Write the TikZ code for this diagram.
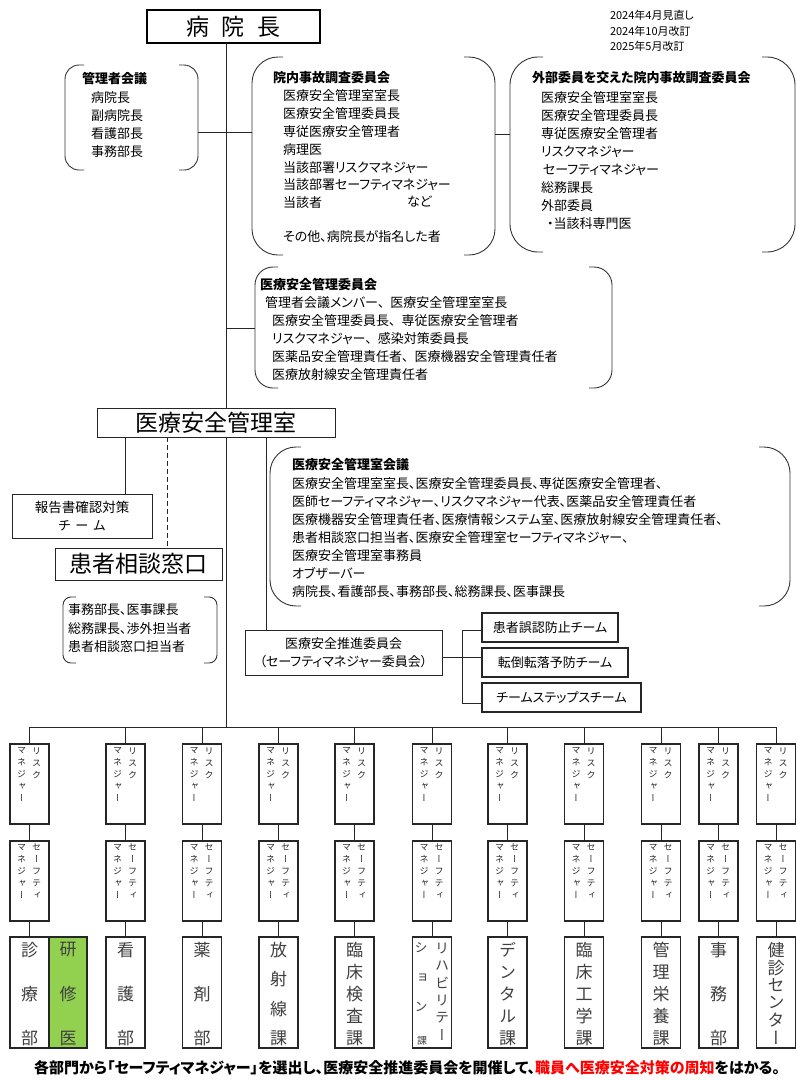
\documentclass[tikz,border=0pt]{standalone}
\usepackage{fontspec}
\setmainfont{Noto Sans CJK JP}[RawFeature={+palt}]
\newfontfamily\vjp{Noto Sans CJK JP}[RawFeature={+vert}]
\usetikzlibrary{calc}
\newcommand\bx[7]{\node[#2, minimum width={((#5)-(#3))*1pt}, minimum height={((#6)-(#4))*1pt}] (#1) at ({((#3)+(#5))/2},{((#4)+(#6))/2}) {#7};}
\newcommand\brackets[2]{%
 \draw[brkline, rounded corners=#2pt] ([xshift={(#2+5)*1pt}]#1.north west) -- (#1.north west) -- (#1.south west) -- ([xshift={(#2+5)*1pt}]#1.south west);
 \draw[brkline, rounded corners=#2pt] ([xshift={-(#2+5)*1pt}]#1.north east) -- (#1.north east) -- (#1.south east) -- ([xshift={-(#2+5)*1pt}]#1.south east);}
\newcommand\vdept[4]{\foreach \ch [count=\k from 0] in {#4}{\node[dtext] (#1-\k) at ({#2},{950+\k*88/(#3-1)}) {\ch};}}
\tikzset{
 every node/.style={inner sep=0pt, outer sep=0pt},
 ln/.style={line width=0.8pt, draw=black!85},
 brkline/.style={line width=0.9pt, draw=black!80},
 plainnode/.style={draw=none},
 box/.style={draw=black!85, line width=0.9pt, fill=white, align=center, font=\fontsize{13}{18}\selectfont},
 thickbox/.style={draw=black, line width=1.8pt, fill=white, align=center},
 tbox/.style={draw=black!85, line width=1.3pt, fill=white, align=center, font=\fontsize{13}{18}\selectfont},
 cbox/.style={draw=black!85, line width=1.3pt, fill=white},
 greenbox/.style={draw=black!85, line width=1.3pt, fill={rgb,255:red,146;green,208;blue,80}},
 ttl/.style={anchor=west, font=\bfseries\fontsize{13}{18}\selectfont},
 body/.style={anchor=north west, align=left, font=\fontsize{13}{17.8}\selectfont},
 body1/.style={anchor=west, font=\fontsize{13}{18}\selectfont},
 date/.style={anchor=west, font=\fontsize{11}{14}\selectfont},
 vsmall/.style={anchor=north, align=center, font=\vjp\fontsize{9}{12}\selectfont, text=black!85},
 dtext/.style={font=\vjp\fontsize{17}{17}\selectfont, text=black!75},
 foot/.style={font=\bfseries\fontsize{15}{15}\selectfont}
}
\begin{document}
\begin{tikzpicture}[x=1pt,y=-1pt]
\useasboundingbox (0,0) rectangle (797,1080);
% coordinates of the trunk
\coordinate (trunk) at (226,727);
\coordinate (j1) at (226,132);
\coordinate (j2) at (226,328);
\coordinate (j3) at (500,134);
\coordinate (s1) at (125,0);
\coordinate (s2) at (167,0);
\coordinate (s3) at (266,0);
\coordinate (b1) at (462,630);
\coordinate (b2) at (462,657);
\coordinate (b3) at (462,703);
\coordinate (dtop) at (0,937);
% dates
\node[date] (d1) at (610,15) {2024年4月見直し};
\node[date] (d2) at (610,31) {2024年10月改訂};
\node[date] (d3) at (610,46) {2025年5月改訂};
% brackets boxes (invisible frames)
\bx{kanri}{plainnode}{65}{65}{198}{170}{}
\bx{innai}{plainnode}{252}{57}{495}{255}{}
\bx{gaibu}{plainnode}{510}{57}{795}{252}{}
\bx{iinkai}{plainnode}{255}{267}{612}{388}{}
\bx{kaigi}{plainnode}{270}{447}{790}{606}{}
\bx{kanjabr}{plainnode}{63}{597}{217}{663}{}
\brackets{kanri}{14}
\brackets{innai}{26}
\brackets{gaibu}{28}
\brackets{iinkai}{18}
\brackets{kaigi}{26}
\brackets{kanjabr}{8}
% trunk
\bx{incho}{thickbox}{147}{10}{320}{43}{\fontsize{23}{23}\selectfont 病\hspace{13pt}院\hspace{13pt}長}
\draw[ln] (incho.south -| trunk) -- (trunk);
\draw[ln] (kanri.east |- j1) -- (innai.west |- j1);
\draw[ln] (innai.east |- j3) -- (gaibu.west |- j3);
\draw[ln] (j2) -- (iinkai.west |- j2);
% texts in brackets
\node[ttl] (kanri-t) at (82,79) {管理者会議};
\node[body, font=\fontsize{13}{18}\selectfont] (kanri-b) at (91,92) {病院長\\副病院長\\看護部長\\事務部長};
\node[ttl] (innai-t) at (273,78) {院内事故調査委員会};
\node[body] (innai-b) at (283,90) {医療安全管理室室長\\医療安全管理委員長\\専従医療安全管理者\\病理医\\当該部署リスクマネジャー\\当該部署セーフティマネジャー\\当該者\\[16pt]その他、病院長が指名した者};
\node[body1] (innai-n) at (407,202) {など};
\node[ttl] (gaibu-t) at (532,78) {外部委員を交えた院内事故調査委員会};
\node[body, font=\fontsize{13}{18}\selectfont] (gaibu-b) at (541,92) {医療安全管理室室長\\医療安全管理委員長\\専従医療安全管理者\\リスクマネジャー\\\hspace*{2pt}セーフティマネジャー\\総務課長\\外部委員\\\hspace*{6pt}・当該科専門医};
\node[ttl] (iinkai-t) at (260,285) {医療安全管理委員会};
\node[body, font=\fontsize{13}{18}\selectfont] (iinkai-b) at (265,297) {管理者会議メンバー、\hspace{6pt}医療安全管理室室長\\\hspace*{7pt}医療安全管理委員長、\hspace{6pt}専従医療安全管理者\\\hspace*{7pt}リスクマネジャー、\hspace{6pt}感染対策委員長\\\hspace*{7pt}医薬品安全管理責任者、\hspace{6pt}医療機器安全管理責任者\\\hspace*{7pt}医療放射線安全管理責任者};
\node[ttl] (kaigi-t) at (292,465) {医療安全管理室会議};
\node[body, font=\fontsize{13}{17.9}\selectfont] (kaigi-b) at (292,478) {医療安全管理室室長、医療安全管理委員長、専従医療安全管理者、\\医師セーフティマネジャー、リスクマネジャー代表、医薬品安全管理責任者\\医療機器安全管理責任者、医療情報システム室、医療放射線安全管理責任者、\\患者相談窓口担当者、医療安全管理室セーフティマネジャー、\\医療安全管理室事務員\\オブザーバー\\病院長、看護部長、事務部長、総務課長、医事課長};
\node[body, font=\fontsize{13}{18.5}\selectfont] (kanjabr-t) at (68,604) {事務部長、医事課長\\総務課長、渉外担当者\\患者相談窓口担当者};
% office
\bx{shitsu}{box}{97}{408}{335}{437}{\fontsize{23}{23}\selectfont 医療安全管理室}
\bx{hokoku}{box}{12}{494}{152}{538}{\fontsize{13.5}{20}\selectfont 報告書確認対策\\チ\hspace{5pt}ー\hspace{5pt}ム}
\bx{kanja}{box}{55}{548}{222}{580}{\fontsize{23}{23}\selectfont 患者相談窓口}
\bx{suishin}{box}{245}{630}{442}{675}{医療安全推進委員会\\（セーフティマネジャー委員会）}
\draw[ln] (shitsu.south -| s1) -- (hokoku.north -| s1);
\draw[ln, dash pattern=on 5pt off 3pt] (shitsu.south -| s2) -- (kanja.north -| s2);
\draw[ln] (shitsu.south -| s3) -- (suishin.north -| s3);
% teams
\bx{team1}{tbox}{482}{613}{618}{642}{患者誤認防止チーム}
\bx{team2}{tbox}{482}{648}{628}{677}{転倒転落予防チーム}
\bx{team3}{tbox}{482}{683}{641}{712}{チームステップスチーム}
\draw[ln] (suishin.east |- b2) -- (team2.west |- b2);
\draw[ln] (team1.west |- b1) -- (b1) -- (b3) -- (team3.west |- b3);
% columns
\foreach \cx [count=\i] in {29.5,125.5,202,278.5,354.5,432,507.5,584,661,718.5,776}{
 \bx{rm\i}{cbox}{\cx-19.5}{744}{\cx+19.5}{824}{}
 \bx{sm\i}{cbox}{\cx-19.5}{841}{\cx+19.5}{921}{}
 \node[vsmall] (rmR\i) at (\cx+7,747.5) {リ\\ス\\ク};
 \node[vsmall] (rmL\i) at (\cx-8,747.5) {マ\\ネ\\ジ\\ャ\\ー};
 \node[vsmall] (smR\i) at (\cx+7,844) {セ\\ー\\フ\\テ\\ィ};
 \node[vsmall] (smL\i) at (\cx-8,844) {マ\\ネ\\ジ\\ャ\\ー};
 \draw[ln] (rm\i.north |- trunk) -- (rm\i.north);
 \draw[ln] (rm\i.south) -- (sm\i.north);
 \draw[ln] (sm\i.south) -- (sm\i.south |- dtop);
}
\draw[ln] (rm1.north |- trunk) -- (rm11.north |- trunk);
% departments
\bx{dp1}{cbox}{10}{937}{49}{1048}{}
\bx{dp1b}{greenbox}{49}{937}{87}{1048}{}
\bx{dp2}{cbox}{106}{937}{145}{1048}{}
\bx{dp3}{cbox}{182.5}{937}{221.5}{1048}{}
\bx{dp4}{cbox}{259}{937}{298}{1048}{}
\bx{dp5}{cbox}{335}{937}{374}{1048}{}
\bx{dp6}{cbox}{412.5}{937}{451.5}{1048}{}
\bx{dp7}{cbox}{488}{937}{527}{1048}{}
\bx{dp8}{cbox}{564.5}{937}{603.5}{1048}{}
\bx{dp9}{cbox}{641.5}{937}{680.5}{1048}{}
\bx{dp10}{cbox}{699}{937}{738}{1048}{}
\bx{dp11}{cbox}{756.5}{937}{795.5}{1048}{}
\vdept{t1}{29.5}{3}{診,療,部}
\vdept{t1b}{68}{3}{研,修,医}
\vdept{t2}{125.5}{3}{看,護,部}
\vdept{t3}{202}{3}{薬,剤,部}
\vdept{t4}{278.5}{4}{放,射,線,課}
\vdept{t5}{354.5}{5}{臨,床,検,査,課}
\vdept{t7}{507.5}{5}{デ,ン,タ,ル,課}
\vdept{t8}{584}{5}{臨,床,工,学,課}
\vdept{t9}{661}{5}{管,理,栄,養,課}
\vdept{t10}{718.5}{3}{事,務,部}
\vdept{t11}{776}{6}{健,診,セ,ン,タ,ー}
\foreach \ch [count=\k from 0] in {リ,ハ,ビ,リ,テ,ー}{\node[font=\vjp\fontsize{14}{14}\selectfont, text=black!75] (t6r-\k) at (442,{948+\k*17.5}) {\ch};}
\foreach \ch/\yy [count=\k] in {シ/948,ョ/978,ン/1007}{\node[font=\vjp\fontsize{13}{13}\selectfont, text=black!75] (t6l-\k) at (421,\yy) {\ch};}
\node[font=\fontsize{10}{10}\selectfont, text=black!75] (t6k) at (422,1041) {課};
% footer
\node[foot] (foot) at (407,1068) {各部門から「セーフティマネジャー」を選出し、医療安全推進委員会を開催して、\textcolor{red}{職員へ医療安全対策の周知}をはかる。};
\end{tikzpicture}
\end{document}
